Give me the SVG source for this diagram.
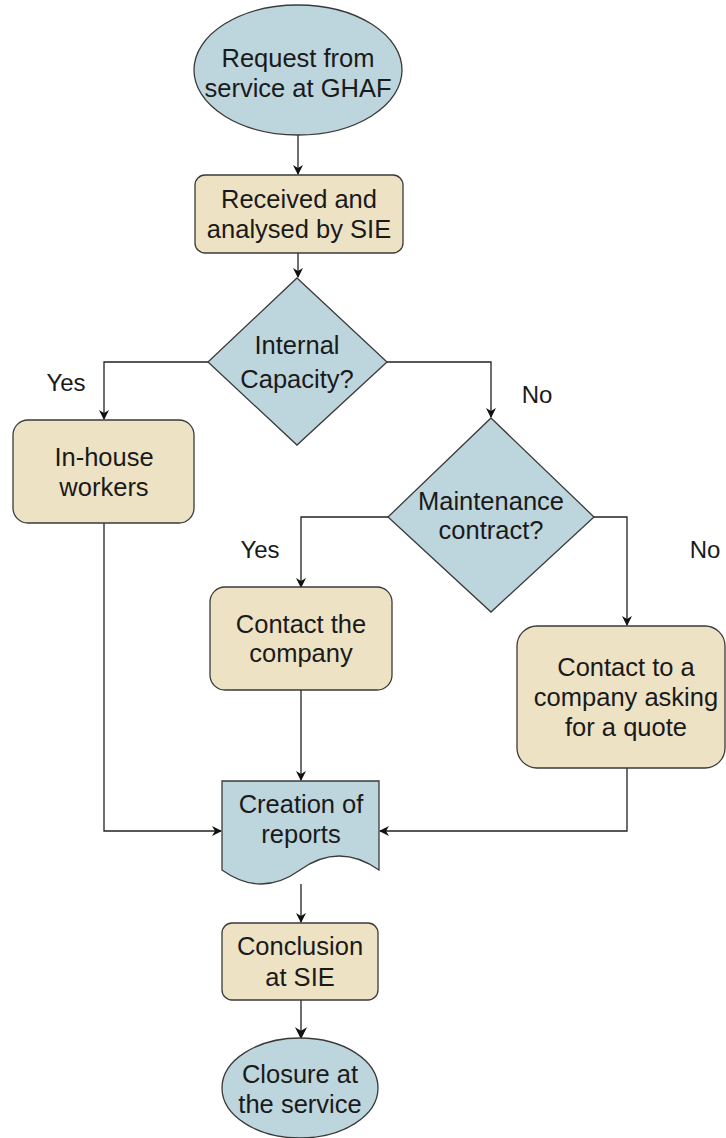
<svg xmlns="http://www.w3.org/2000/svg" width="726" height="1138" viewBox="0 0 726 1138">
  <style>
    .blue { fill: #bdd5dd; stroke: #3a3a3a; stroke-width: 1.3; }
    .tan { fill: #eee2c4; stroke: #3a3a3a; stroke-width: 1.3; }
    .t { font-family: "Liberation Sans", Arial, sans-serif; font-size: 25.5px; fill: #1a1a1a; text-anchor: middle; }
    .lbl { font-family: "Liberation Sans", Arial, sans-serif; font-size: 24px; fill: #1a1a1a; text-anchor: middle; }
    .edge { fill: none; stroke: #222; stroke-width: 1.3; }
  </style>
  <defs>
    <marker id="arrow" viewBox="0 0 10 10" refX="9" refY="5" markerWidth="10" markerHeight="10" markerUnits="userSpaceOnUse" orient="auto">
      <path d="M0,0 L10,5 L0,10 L3,5 z" fill="#111"/>
    </marker>
    <marker id="arrowBig" viewBox="0 0 10 10" refX="9" refY="5" markerWidth="12" markerHeight="12" markerUnits="userSpaceOnUse" orient="auto">
      <path d="M0,0 L10,5 L0,10 L3,5 z" fill="#111"/>
    </marker>
  </defs>

  <!-- connectors -->
  <g id="connectors">
    <path class="edge" d="M298,135 V174" marker-end="url(#arrow)"/>
    <path class="edge" d="M298,253 V277" marker-end="url(#arrow)"/>
    <path class="edge" d="M208,362 H104 V419" marker-end="url(#arrow)"/>
    <path class="edge" d="M387,362 H491 V417" marker-end="url(#arrow)"/>
    <path class="edge" d="M388,517 H301 V587" marker-end="url(#arrow)"/>
    <path class="edge" d="M594,517 H627 V625" marker-end="url(#arrow)"/>
    <path class="edge" d="M301,690 V780" marker-end="url(#arrow)"/>
    <path class="edge" d="M104,523 V831 H221" marker-end="url(#arrow)"/>
    <path class="edge" d="M627,768 V831 H380" marker-end="url(#arrow)"/>
    <path class="edge" d="M301,884 V922" stroke-width="1.6" marker-end="url(#arrow)"/>
    <path class="edge" d="M301,1000 V1038" stroke-width="2" marker-end="url(#arrowBig)"/>
    <text class="lbl" x="66" y="391">Yes</text>
    <text class="lbl" x="537" y="403">No</text>
    <text class="lbl" x="260" y="558">Yes</text>
    <text class="lbl" x="705" y="558">No</text>
  </g>

  <g id="request">
    <ellipse class="blue" cx="298" cy="70" rx="104" ry="65"/>
    <text class="t" x="298" y="67">Request from</text>
    <text class="t" x="298" y="97">service at GHAF</text>
  </g>

  <g id="received">
    <rect class="tan" x="195" y="175" width="208" height="78" rx="10"/>
    <text class="t" x="299" y="208">Received and</text>
    <text class="t" x="299" y="238">analysed by SIE</text>
  </g>

  <g id="internal-capacity">
    <polygon class="blue" points="297,278 387,362 297,445 208,362"/>
    <text class="t" x="297" y="354">Internal</text>
    <text class="t" x="297" y="388">Capacity?</text>
  </g>

  <g id="in-house">
    <rect class="tan" x="13" y="420" width="181" height="103" rx="15"/>
    <text class="t" x="104" y="466">In-house</text>
    <text class="t" x="104" y="496">workers</text>
  </g>

  <g id="maintenance">
    <polygon class="blue" points="491,418 594,517 491,612 388,517"/>
    <text class="t" x="491" y="510">Maintenance</text>
    <text class="t" x="491" y="539">contract?</text>
  </g>

  <g id="contact-company">
    <rect class="tan" x="210" y="587" width="182" height="103" rx="15"/>
    <text class="t" x="301" y="633">Contact the</text>
    <text class="t" x="301" y="662">company</text>
  </g>

  <g id="contact-quote">
    <rect class="tan" x="517" y="626" width="208" height="142" rx="20"/>
    <text class="t" x="626" y="676">Contact to a</text>
    <text class="t" x="626" y="706">company asking</text>
    <text class="t" x="626" y="736">for a quote</text>
  </g>

  <g id="reports">
    <path class="blue" d="M222,781 H379 V870 Q339,842 300,870 Q261,898 222,870 Z"/>
    <text class="t" x="301" y="813">Creation of</text>
    <text class="t" x="301" y="843">reports</text>
  </g>

  <g id="conclusion">
    <rect class="tan" x="222" y="923" width="156" height="77" rx="10"/>
    <text class="t" x="300" y="955">Conclusion</text>
    <text class="t" x="300" y="986">at SIE</text>
  </g>

  <g id="closure">
    <ellipse class="blue" cx="300" cy="1088" rx="78" ry="50"/>
    <text class="t" x="300" y="1083">Closure at</text>
    <text class="t" x="300" y="1113">the service</text>
  </g>
</svg>
